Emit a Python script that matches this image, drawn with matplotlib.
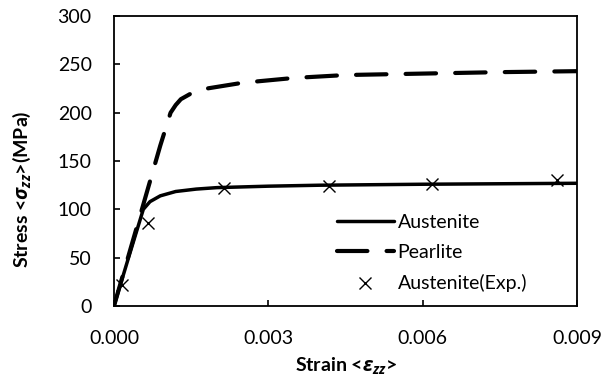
import numpy as np
import matplotlib.pyplot as plt

plt.rcParams['font.family'] = ['Lato', 'DejaVu Sans']
plt.rcParams['mathtext.fontset'] = 'custom'
plt.rcParams['mathtext.rm'] = 'Open Sans:bold'
plt.rcParams['mathtext.it'] = 'Open Sans:italic:bold'
plt.rcParams['mathtext.bf'] = 'Open Sans:bold'

# austenite (simulated)
aus_strain = [0, 0.0003, 0.00057, 0.0007, 0.0009, 0.0012, 0.0016, 0.002, 0.003, 0.004, 0.006, 0.009]
aus_stress = [0, 53, 100, 108, 114, 118.5, 121, 122.5, 124, 125, 126, 127]

# pearlite (simulated)
pea_strain = [0, 0.0005, 0.0009, 0.0011, 0.0012, 0.0013, 0.0015, 0.0018, 0.0025, 0.0035,
              0.0045, 0.0055, 0.0065, 0.0075, 0.009]
pea_stress = [0, 92, 166, 200, 208, 214, 220, 225, 231, 236, 239, 240, 241, 242, 243]

# austenite experiment
exp_strain = [0.00015, 0.00067, 0.00214, 0.00417, 0.00618, 0.00861]
exp_stress = [22, 86, 122, 124, 126, 130]

fig = plt.figure(figsize=(6.03, 3.83), dpi=100)
ax = fig.add_axes([0.189, 0.201, 0.768, 0.757])

ax.plot(aus_strain, aus_stress, color="black", lw=2.5, label="Austenite",
        solid_joinstyle="round", solid_capstyle="round")
ax.plot(pea_strain, pea_stress, color="black", lw=3, dashes=(7.3, 4.6),
        dash_capstyle="round", dash_joinstyle="round", label="Pearlite")
ax.plot(exp_strain, exp_stress, ls="none", marker="x", ms=9, mew=1,
        color="black", label="Austenite(Exp.)")

ax.set_xlim(0, 0.009)
ax.set_ylim(0, 300)
ax.set_xticks([0, 0.003, 0.006, 0.009])
ax.set_xticklabels(["0.000", "0.003", "0.006", "0.009"])
ax.set_yticks(range(0, 301, 50))
ax.tick_params(axis="both", direction="in", length=4.5, width=1.2, labelsize=14)
ax.tick_params(axis="y", pad=16)
ax.tick_params(axis="x", pad=17)
for s in ax.spines.values():
    s.set_linewidth(1.3)

ax.set_xlabel(r"Strain <$\varepsilon_{zz}$>", fontsize=14, fontweight="bold")
ax.set_ylabel(r"Stress <$\sigma_{zz}$>(MPa)", fontsize=14, fontweight="bold")
ax.xaxis.set_label_coords(0.5, -0.17)
ax.yaxis.set_label_coords(-0.175, 0.403)

ax.legend(loc="upper left", bbox_to_anchor=(0.482, 0.318), frameon=False,
          fontsize=14, borderpad=0, handlelength=2.9, handletextpad=0.2,
          labelspacing=0.68, borderaxespad=0)

fig.savefig("out.png", dpi=100)
